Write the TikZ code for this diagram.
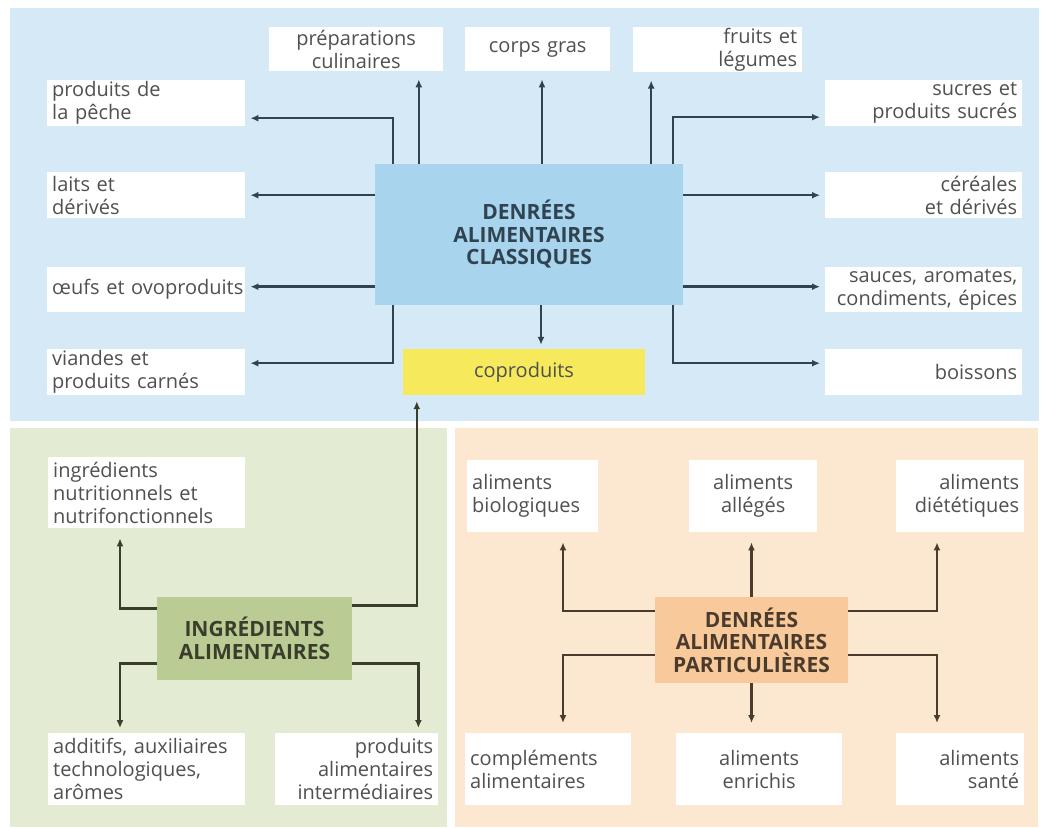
\documentclass[tikz,border=0pt]{standalone}
\usepackage{fontspec}
\setmainfont{Open Sans}
\usetikzlibrary{arrows.meta}
\definecolor{bluebg}{HTML}{D6E9F6}
\definecolor{greenbg}{HTML}{E3EBD2}
\definecolor{orangebg}{HTML}{FCE7D1}
\definecolor{hubblue}{HTML}{A9D4EE}
\definecolor{hubgreen}{HTML}{BACB94}
\definecolor{huborange}{HTML}{F7C99B}
\definecolor{coyellow}{HTML}{F6EA5C}
\definecolor{txt}{HTML}{505050}
\definecolor{arrowB}{HTML}{2F4350}
\definecolor{arrowG}{HTML}{3A3D2C}
\definecolor{arrowO}{HTML}{4A3B2C}
\begin{document}
\begin{tikzpicture}[x=1pt,y=-1pt,
  leaf/.style={fill=white, inner xsep=5pt, inner ysep=1pt, text=txt,
    font=\fontsize{20}{23}\selectfont, anchor=north west},
  lf/.style n args={3}{text width=#1pt, minimum height=#2pt, align=#3},
  hub/.style={font=\bfseries\fontsize{21}{22.5}\selectfont, align=center, inner sep=0pt},
  arr/.style={line width=2.5pt, -{Latex[length=8pt,width=7pt]}, shorten >=5pt},
  arrB/.style={arr, draw=arrowB},
  arrG/.style={arr, draw=arrowG},
  arrO/.style={arr, draw=arrowO}]
\useasboundingbox (0,0) rectangle (1046,827);
\fill[white] (0,0) rectangle (1046,827);
% panels
\fill[bluebg] (10,8) rectangle (1039,421);
\fill[greenbg] (10,428) rectangle (447,827);
\fill[orangebg] (455,428) rectangle (1038,827);

% ---- top panel ----
\node[hub, fill=hubblue, text=arrowB, minimum width=308pt, minimum height=141pt] (central) at (529,234.5) {DENRÉES\\ALIMENTAIRES\\CLASSIQUES};
\node[hub, fill=coyellow, font=\fontsize{20}{23}\selectfont, text=txt, minimum width=242pt, minimum height=46pt] (coprod) at (524,372) {coproduits};

\node[leaf, lf={164}{44}{center}] (prep) at (269,27) {préparations\\culinaires};
\node[leaf, lf={135}{44}{center}] (corps) at (465,27) {corps gras};
\node[leaf, lf={159}{45}{right}] (fruits) at (633,27) {fruits et\\légumes};

\node[leaf, lf={188}{46}{left}] (peche) at (47,80) {produits de\\la pêche};
\node[leaf, lf={188}{46}{left}] (laits) at (47,172) {laits et\\dérivés};
\node[leaf, lf={188}{45}{left}] (oeufs) at (47,267) {\mbox{œufs et ovoproduits}};
\node[leaf, lf={188}{46}{left}] (viandes) at (47,349) {viandes et\\produits carnés};

\node[leaf, lf={187}{46}{right}] (sucres) at (825,80) {sucres et\\produits sucrés};
\node[leaf, lf={187}{46}{right}] (cereales) at (825,172) {céréales\\et dérivés};
\node[leaf, lf={187}{45}{right}] (sauces) at (825,267) {sauces, aromates,\\condiments, épices};
\node[leaf, lf={187}{46}{right}] (boissons) at (825,349) {boissons};

\coordinate (cL) at ([xshift=18pt]central.north west);
\coordinate (cR) at ([xshift=-10pt]central.north east);
\coordinate (cP) at ([xshift=44pt]central.north west);
\coordinate (cC) at ([xshift=13pt]central.north);
\coordinate (cF) at ([xshift=-32pt]central.north east);
\coordinate (cD) at ([xshift=12pt]central.south);

\draw[arrB] (cL) |- ([yshift=-15pt]peche.east);
\draw[arrB] (central.west |- laits.east) -- (laits.east);
\draw[arrB] ([yshift=3pt]central.west |- oeufs.east) -- ([yshift=3pt]oeufs.east);
\draw[arrB] (cL |- central.south) |- ([yshift=9pt]viandes.east);

\draw[arrB] (cR) |- ([yshift=-14pt]sucres.west);
\draw[arrB] (central.east |- cereales.west) -- (cereales.west);
\draw[arrB] ([yshift=3pt]central.east |- sauces.west) -- ([yshift=3pt]sauces.west);
\draw[arrB] (cR |- central.south) |- ([yshift=9pt]boissons.west);

\draw[arrB, shorten >=8pt] (cP) -- (cP |- prep.south);
\draw[arrB, shorten >=8pt] (cC) -- (cC |- corps.south);
\draw[arrB, shorten >=8pt] (cF) -- (cF |- fruits.south);
\draw[arrB, shorten >=4pt] (cD) -- (cD |- coprod.north);

% ---- green panel ----
\node[hub, fill=hubgreen, text=arrowG, minimum width=195pt, minimum height=83pt] (ingbox) at (254.5,638.5) {INGRÉDIENTS\\ALIMENTAIRES};
\node[leaf, lf={187}{71}{left}] (nutri) at (48,457) {ingrédients\\nutritionnels et\\nutrifonctionnels};
\node[leaf, lf={187}{72}{left}] (additifs) at (48,733) {additifs, auxiliaires\\technologiques,\\arômes};
\node[leaf, lf={153}{72}{right}] (pai) at (275,733) {produits\\alimentaires\\intermédiaires};

\coordinate (gU) at ([xshift=72pt]nutri.south west);
\coordinate (gR) at ([xshift=-20pt]pai.north east);
\coordinate (gC) at ([xshift=14pt]coprod.south west);
\draw[arrG, shorten >=10pt] ([yshift=30pt]ingbox.west) -| (gU);
\draw[arrG] ([yshift=-25pt]ingbox.west) -| (gU |- additifs.north);
\draw[arrG] ([yshift=-25pt]ingbox.east) -| (gR);
\draw[arrG, shorten >=6pt] ([yshift=33pt]ingbox.east) -| (gC);

% ---- orange panel ----
\node[hub, fill=huborange, text=arrowO, minimum width=193pt, minimum height=86pt] (denpart) at (751.5,640) {DENRÉES\\ALIMENTAIRES\\PARTICULIÈRES};
\node[leaf, lf={121}{72}{left}] (bio) at (467,460) {aliments\\biologiques};
\node[leaf, lf={118}{72}{center}] (alleges) at (689,460) {aliments\\allégés};
\node[leaf, lf={118}{72}{right}] (diet) at (896,460) {aliments\\diététiques};
\node[leaf, lf={156}{72}{left}] (compl) at (465,733) {compléments\\alimentaires};
\node[leaf, lf={156}{72}{center}] (enrich) at (676,733) {aliments\\enrichis};
\node[leaf, lf={118}{72}{right}] (sante) at (896,733) {aliments\\santé};

\coordinate (oL) at ([xshift=96pt]bio.south west);
\coordinate (oR) at ([xshift=41pt]diet.south west);
\draw[arrO, shorten >=10pt] ([yshift=29pt]denpart.west) -| (oL);
\draw[arrO, shorten >=10pt] ([yshift=-15pt]denpart.west) -| (oL |- compl.north);
\draw[arrO, shorten >=10pt] (denpart.north) -- (denpart.north |- alleges.south);
\draw[arrO, shorten >=10pt] (denpart.south) -- (denpart.south |- enrich.north);
\draw[arrO, shorten >=10pt] ([yshift=29pt]denpart.east) -| (oR);
\draw[arrO, shorten >=10pt] ([yshift=-15pt]denpart.east) -| (oR |- sante.north);
\end{tikzpicture}
\end{document}
